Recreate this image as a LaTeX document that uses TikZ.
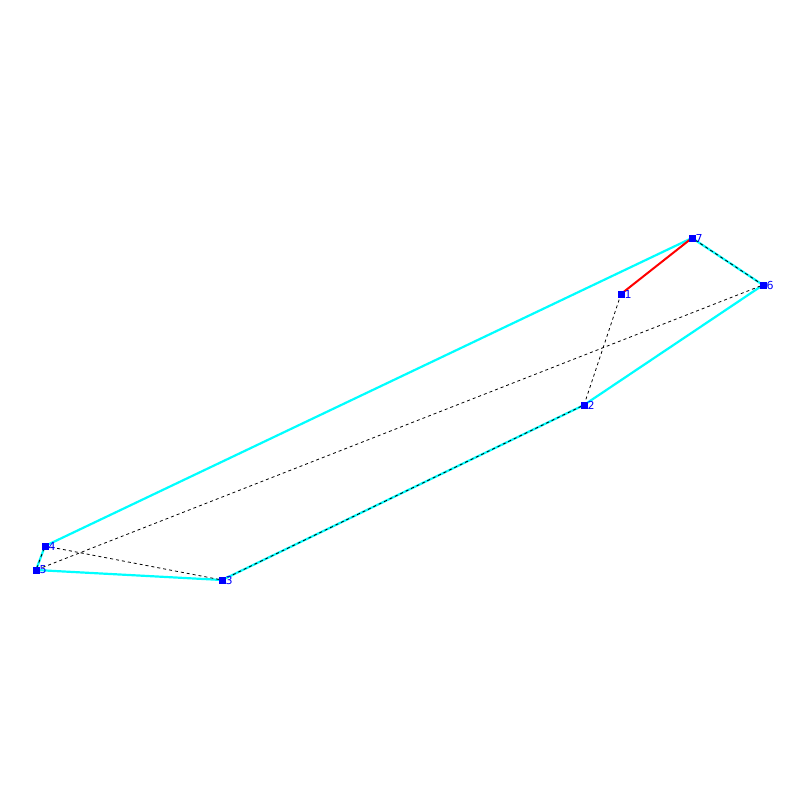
\documentclass[tikz,border=0pt]{standalone}
\usepackage{fontspec}
\setmainfont{DejaVu Sans}
\definecolor{hullc}{RGB}{0,255,255}
\definecolor{ptc}{RGB}{0,0,255}
\definecolor{bestc}{RGB}{255,0,0}
\begin{document}
\begin{tikzpicture}[x=1pt,y=-1pt,
  pt/.style={fill=ptc,minimum size=7pt,inner sep=0pt,outer sep=0pt,draw=none},
  lbl/.style={text=ptc,font=\fontsize{11}{11}\selectfont,inner sep=0pt,anchor=west},
  hull/.style={draw=hullc,line width=2.2pt,line join=round},
  tour/.style={draw=black,line width=0.8pt,dash pattern=on 3pt off 3pt},
  best/.style={draw=bestc,line width=2pt}]
\useasboundingbox (0,0) rectangle (800,800);
\coordinate (p1) at (621,294);
\coordinate (p2) at (584,405);
\coordinate (p3) at (222,580);
\coordinate (p4) at (45,546);
\coordinate (p5) at (36,570);
\coordinate (p6) at (763,285);
\coordinate (p7) at (692,238);
\draw[hull] (p7) -- (p6) -- (p2) -- (p3) -- (p5) -- (p4) -- cycle;
\draw[tour] (p1) -- (p2) -- (p3) -- (p4) -- (p5) -- (p6) -- (p7);
\draw[best] (p1) -- (p7);
\foreach \i in {1,...,7} {
  \node[pt] (n\i) at (p\i) {};
  \node[lbl] (l\i) at ([xshift=3.5pt]p\i) {\i};
}
\end{tikzpicture}
\end{document}
